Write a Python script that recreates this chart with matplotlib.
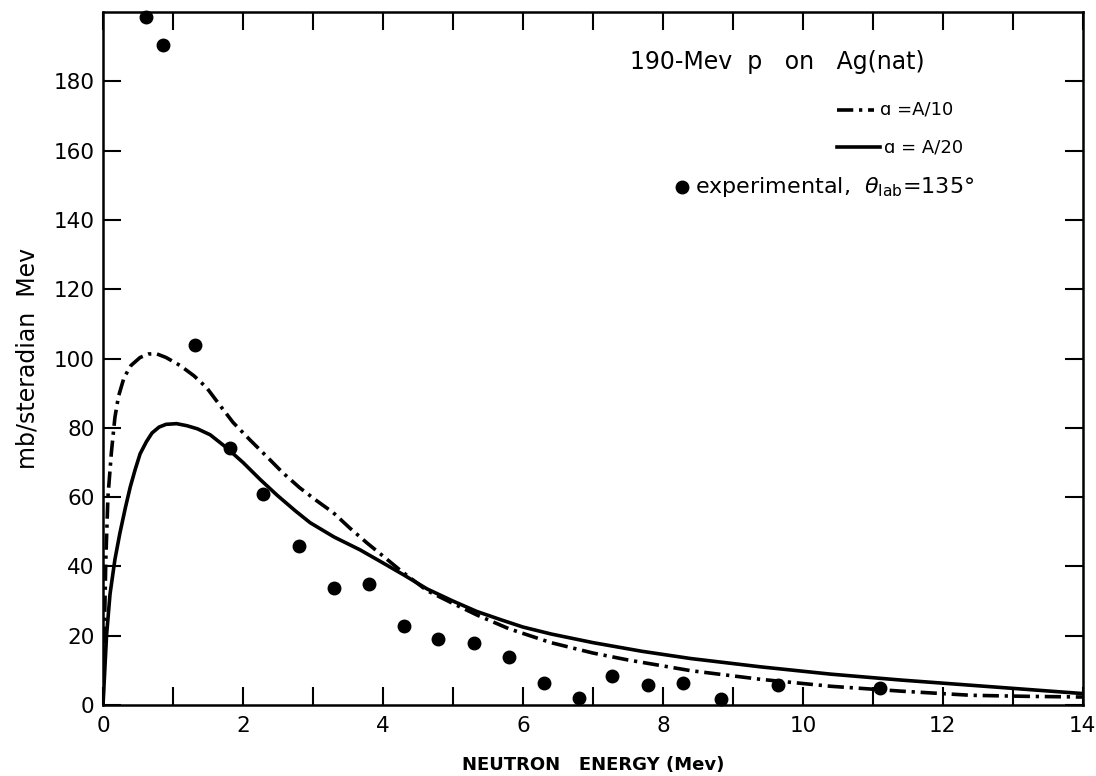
import matplotlib
matplotlib.use('Agg')
import matplotlib.pyplot as plt
from matplotlib.lines import Line2D
from matplotlib.ticker import MultipleLocator

# curve a = A/20 (solid)
x_a20 = [0, 0.02, 0.05, 0.10, 0.17, 0.24, 0.32, 0.39, 0.46, 0.53, 0.62, 0.70,
         0.80, 0.90, 1.05, 1.20, 1.35, 1.53, 1.75, 2.0, 2.25, 2.49, 2.75, 2.96,
         3.3, 3.67, 4.0, 4.3, 4.63, 5.0, 5.34, 5.7, 6.0, 6.4, 7.0, 7.7, 8.4,
         9.4, 10.4, 11.4, 12.4, 13.2, 14.0]
y_a20 = [0, 8, 20, 32, 42, 49.5, 57, 63, 68, 72.5, 76, 78.5,
         80.2, 81, 81.2, 80.6, 79.7, 78, 74.5, 70, 65, 60.5, 56, 52.6,
         48.5, 44.8, 41, 37.5, 33.5, 30, 27, 24.5, 22.5, 20.5, 18, 15.5, 13.4,
         11, 8.9, 7.2, 5.7, 4.5, 3.3]

# curve a = A/10 (dash-dot)
x_a10 = [0, 0.02, 0.04, 0.07, 0.12, 0.17, 0.22, 0.30, 0.40, 0.53, 0.65, 0.76,
         0.90, 1.1, 1.3, 1.48, 1.67, 1.86, 2.1, 2.34, 2.57, 2.81, 3.05, 3.29,
         3.53, 3.77, 4.0, 4.24, 4.63, 5.0, 5.34, 5.8, 6.4, 7.0, 7.5, 8.4, 9.4,
         10.4, 11.4, 12.4, 13.2, 14.0]
y_a10 = [0, 22, 42, 60, 73, 83, 89, 94.5, 98, 100.3, 101.3, 101.4,
         100.3, 98, 95, 91.6, 86.5, 81.5, 76.5, 71.7, 67, 62.7, 59, 55.5,
         51, 46.8, 43, 39, 33, 29.3, 26, 22, 18, 15, 13, 9.9, 7.4,
         5.4, 4, 2.8, 2.5, 2.3]

# experimental points, theta_lab = 135 deg
x_exp = [0.61, 0.86, 1.31, 1.82, 2.29, 2.8, 3.3, 3.8, 4.3, 4.79, 5.3, 5.8,
         6.3, 6.8, 7.27, 7.78, 8.28, 8.83, 9.64, 11.1]
y_exp = [198.6, 190.5, 104, 74.3, 61, 46, 33.8, 35, 22.8, 19, 17.9, 13.9,
         6.4, 2, 8.4, 5.9, 6.4, 1.6, 5.9, 4.9]

x_ticks = [0, 2, 4, 6, 8, 10, 12, 14]
y_ticks = [0, 20, 40, 60, 80, 100, 120, 140, 160, 180]

plt.rcParams['font.family'] = ['DejaVu Sans']

fig = plt.figure(figsize=(10.96, 7.76), dpi=100)
ax = fig.add_axes([0.094, 0.0915, 0.894, 0.893])

dashdot = (0, (4.5, 1.6, 0.9, 1.6))
ax.plot(x_a10, y_a10, color='black', lw=2.6, linestyle=dashdot,
        solid_joinstyle='round')
ax.plot(x_a20, y_a20, color='black', lw=2.6, solid_joinstyle='round')
ax.plot(x_exp, y_exp, 'o', color='black', ms=9, clip_on=False)

ax.set_xlim(0, 14)
ax.set_ylim(0, 200)
ax.set_xticks(x_ticks)
ax.set_yticks(y_ticks)
ax.xaxis.set_minor_locator(MultipleLocator(1))
ax.tick_params(which='both', direction='in', length=13, width=1.5,
               top=True, right=True, labelsize=15.5, pad=6)
ax.tick_params(axis='x', pad=8)
for sp in ax.spines.values():
    sp.set_linewidth(1.8)

ax.set_xlabel('NEUTRON   ENERGY (Mev)', fontsize=13, fontweight='bold', labelpad=14)
ax.set_ylabel('mb/steradian  Mev', fontsize=17, labelpad=10)

# annotation and key
ax.text(0.538, 0.928, '190-Mev  p   on   Ag(nat)', transform=ax.transAxes,
        fontsize=17, ha='left', va='center')
ax.add_line(Line2D([0.749, 0.787], [0.859, 0.859], transform=ax.transAxes,
                   color='black', lw=2.6, linestyle=dashdot))
ax.text(0.793, 0.859, 'ɑ =A/10', transform=ax.transAxes,
        fontsize=13, ha='left', va='center')
ax.add_line(Line2D([0.749, 0.793], [0.805, 0.805], transform=ax.transAxes,
                   color='black', lw=2.6))
ax.text(0.797, 0.805, 'ɑ = A/20', transform=ax.transAxes,
        fontsize=13, ha='left', va='center')
ax.add_line(Line2D([0.591], [0.747], transform=ax.transAxes, marker='o',
                   color='black', ms=9, linestyle='none'))
ax.text(0.604, 0.747, r'experimental,  $\theta_{\rm lab}$=135°', transform=ax.transAxes,
        fontsize=16, ha='left', va='center')

fig.savefig('out.png', dpi=100)
